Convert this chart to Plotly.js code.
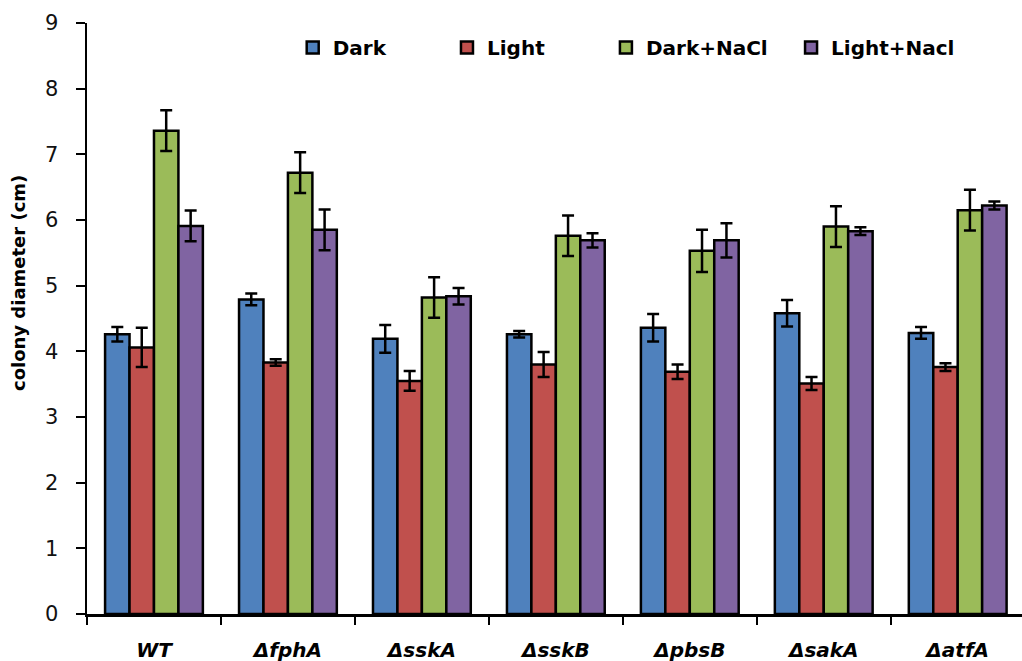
<!DOCTYPE html>
<html>
<head>
<meta charset="utf-8">
<script src="https://cdn.plot.ly/plotly-3.0.1.min.js"></script>
<style>html,body{margin:0;padding:0;background:#fff;}#chart{width:1022px;height:661px;}</style>
</head>
<body>
<div id="chart"></div>
<script>
const strains = ["WT", "ΔfphA", "ΔsskA", "ΔsskB", "ΔpbsB", "ΔsakA", "ΔatfA"];
const seriesNames = ["Dark", "Light", "Dark+NaCl", "Light+Nacl"];
const yTitle = "colony diameter (cm)";
const dark       = [4.26, 4.79, 4.19, 4.26, 4.36, 4.58, 4.28];
const darkErr    = [0.11, 0.09, 0.21, 0.05, 0.21, 0.20, 0.09];
const light      = [4.06, 3.83, 3.55, 3.80, 3.69, 3.51, 3.76];
const lightErr   = [0.30, 0.05, 0.15, 0.19, 0.11, 0.10, 0.06];
const darkNaCl   = [7.36, 6.72, 4.82, 5.76, 5.53, 5.90, 6.15];
const darkNaClErr= [0.31, 0.31, 0.31, 0.31, 0.32, 0.31, 0.31];
const lightNaCl  = [5.91, 5.85, 4.84, 5.69, 5.69, 5.83, 6.22];
const lightNaClErr=[0.235,0.31, 0.125,0.11, 0.26, 0.06, 0.06];
const colors = ["#4F81BD", "#C0504D", "#9BBB59", "#8064A2"];

const values = [dark, light, darkNaCl, lightNaCl];
const errs = [darkErr, lightErr, darkNaClErr, lightNaClErr];
const legendIds = ["legend", "legend2", "legend3", "legend4"];
const legendX = [0.220, 0.3850, 0.5550, 0.7530];

const traces = seriesNames.map((name, i) => ({
  type: "bar",
  name: name,
  x: strains,
  y: values[i],
  legend: legendIds[i],
  marker: {color: colors[i], line: {color: "#000", width: 2.5}},
  error_y: {type: "data", array: errs[i], visible: true, color: "#000", thickness: 2.5, width: 6}
}));

const legendFont = {family: "'DejaVu Sans', sans-serif", size: 20, color: "#000", weight: "bold"};

const layout = {
  width: 1022, height: 661,
  margin: {l: 87, r: 0, t: 23, b: 47},
  paper_bgcolor: "#fff", plot_bgcolor: "#fff",
  barmode: "group", bargap: 0.27, bargroupgap: 0,
  showlegend: true,
  xaxis: {
    type: "category", range: [-0.5, 6.48], tickson: "boundaries",
    ticks: "outside", ticklen: 8, tickwidth: 2, tickcolor: "#000",
    showline: true, linecolor: "#000", linewidth: 2.5, showgrid: false, zeroline: false,
    tickfont: {family: "'DejaVu Sans', sans-serif", size: 20, color: "#000", weight: "bold", style: "italic"},
    ticklabelstandoff: 16, fixedrange: true
  },
  yaxis: {
    range: [0, 9], dtick: 1, tick0: 0,
    ticks: "outside", ticklen: 9, tickwidth: 2, tickcolor: "#000",
    showline: true, linecolor: "#000", linewidth: 2.5, showgrid: false, zeroline: false,
    tickfont: {family: "'DejaVu Sans', sans-serif", size: 21, color: "#111"},
    ticklabelstandoff: 13,
    fixedrange: true
  },
  annotations: [{
    text: yTitle, textangle: -90, showarrow: false,
    xref: "paper", yref: "paper", x: -0.0738, y: 0.56, xanchor: "center", yanchor: "middle",
    font: {family: "'DejaVu Sans', sans-serif", size: 18, color: "#000", weight: "bold"}
  }]
};
legendIds.forEach((id, i) => {
  layout[id] = {
    orientation: "h", x: legendX[i], xanchor: "left", y: 0.9915, yanchor: "top",
    font: legendFont, bgcolor: "rgba(0,0,0,0)"
  };
});

Plotly.newPlot("chart", traces, layout, {displayModeBar: false, staticPlot: true});
</script>
</body>
</html>
